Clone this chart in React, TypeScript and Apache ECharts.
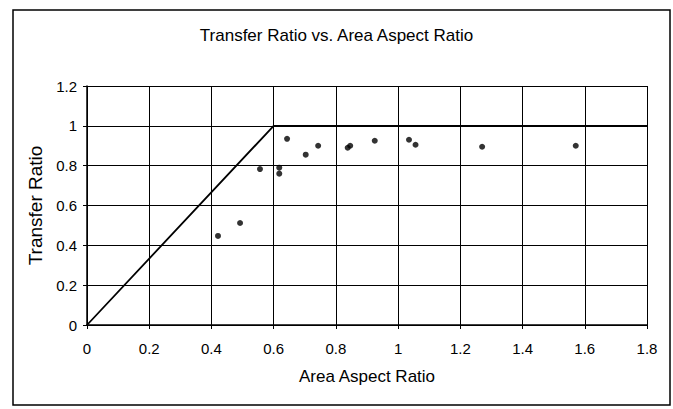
import React, { useEffect, useRef } from "react";
import * as echarts from "echarts";

const titleText = "Transfer Ratio vs. Area Aspect Ratio";
const xAxisTitle = "Area Aspect Ratio";
const yAxisTitle = "Transfer Ratio";

// measured data points (Area Aspect Ratio, Transfer Ratio)
const aspectRatio = [0.421, 0.492, 0.556, 0.618, 0.618, 0.643, 0.703, 0.743, 0.838, 0.846, 0.925, 1.035, 1.056, 1.27, 1.571];
const transferRatio = [0.447, 0.512, 0.783, 0.79, 0.76, 0.935, 0.855, 0.9, 0.89, 0.9, 0.925, 0.93, 0.905, 0.895, 0.9];

// theoretical limit line
const limitX = [0, 0.6, 1.8];
const limitY = [0, 1, 1];

const FONT = "'Liberation Sans', Arial, sans-serif";

export default function App() {
  const ref = useRef<HTMLDivElement>(null);
  useEffect(() => {
    if (!ref.current) return;
    const chart = echarts.init(ref.current, null, { renderer: "svg" });
    const points = aspectRatio.map((x, i) => [x, transferRatio[i]]);
    const line = limitX.map((x, i) => [x, limitY[i]]);
    chart.setOption({
      animation: false,
      backgroundColor: "#ffffff",
      textStyle: { fontFamily: FONT, color: "#000" },
      title: {
        text: titleText,
        left: "center",
        top: 22,
        textStyle: { fontFamily: FONT, fontSize: 17, fontWeight: "normal", color: "#000" },
      },
      graphic: [
        {
          type: "rect",
          shape: { x: 13, y: 10, width: 657, height: 395 },
          style: { fill: "none", stroke: "#000", lineWidth: 1.5 },
          silent: true,
        },
      ],
      grid: { left: 87, top: 86, right: 26, bottom: 84, containLabel: false },
      xAxis: {
        type: "value",
        min: 0,
        max: 1.8,
        interval: 0.2,
        name: xAxisTitle,
        nameLocation: "middle",
        nameGap: 43,
        nameTextStyle: { fontFamily: FONT, fontSize: 17, color: "#000" },
        axisLine: { show: true, lineStyle: { color: "#000", width: 1.5 } },
        axisTick: { show: true, inside: false, length: 4, lineStyle: { color: "#000" } },
        axisLabel: { color: "#000", fontSize: 15, fontFamily: FONT, margin: 16 },
        splitLine: { show: true, lineStyle: { color: "#000", width: 1 } },
      },
      yAxis: {
        type: "value",
        min: 0,
        max: 1.2,
        interval: 0.2,
        name: yAxisTitle,
        nameLocation: "middle",
        nameGap: 38,
        nameTextStyle: { fontFamily: FONT, fontSize: 19, color: "#000" },
        axisLine: { show: true, lineStyle: { color: "#000", width: 1.5 } },
        axisTick: { show: true, inside: false, length: 4, lineStyle: { color: "#000" } },
        axisLabel: { color: "#000", fontSize: 15, fontFamily: FONT, margin: 10 },
        splitLine: { show: true, lineStyle: { color: "#000", width: 1 } },
      },
      series: [
        {
          type: "line",
          data: line,
          symbol: "none",
          lineStyle: { color: "#000", width: 1.8 },
          z: 3,
        },
        {
          type: "scatter",
          data: points,
          symbol: "circle",
          symbolSize: 6,
          itemStyle: { color: "#000" },
          z: 4,
        },
      ],
    });
    return () => chart.dispose();
  }, []);
  return (
    <div
      ref={ref}
      style={{ position: "fixed", left: 0, top: 0, width: 673, height: 409 }}
    />
  );
}
